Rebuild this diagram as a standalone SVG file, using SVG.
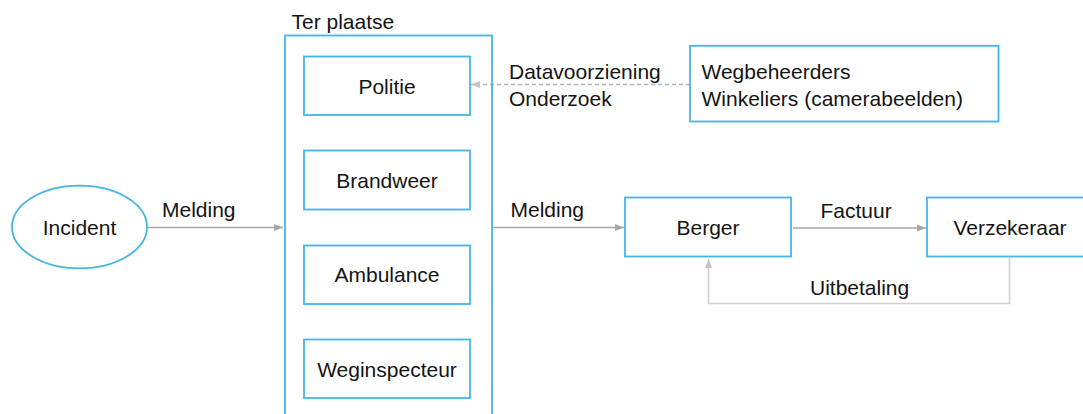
<svg xmlns="http://www.w3.org/2000/svg" width="1083" height="414" viewBox="0 0 1083 414">
  <style>
    .box { fill: #ffffff; stroke: #45b5e8; stroke-width: 1.8; }
    .outer { fill: none; stroke: #45b5e8; stroke-width: 1.8; }
    .t { font-family: "Liberation Sans", Arial, sans-serif; font-size: 21px; fill: #141414; }
    .c { text-anchor: middle; }
    .line { fill: none; stroke: #a6a6a6; stroke-width: 1.6; }
    .light { fill: none; stroke: #d0d0d0; stroke-width: 1.6; }
    .dash { fill: none; stroke: #b4b4b4; stroke-width: 1.6; stroke-dasharray: 4 3; }
  </style>
  <defs>
    <marker id="ah" markerUnits="userSpaceOnUse" markerWidth="10" markerHeight="10" viewBox="0 0 10 10" refX="9" refY="5" orient="auto">
      <path d="M0,1.5 L9,5 L0,8.5 Z" fill="#a6a6a6"/>
    </marker>
    <marker id="ahl" markerUnits="userSpaceOnUse" markerWidth="10" markerHeight="10" viewBox="0 0 10 10" refX="9" refY="5" orient="auto">
      <path d="M0,1.5 L9,5 L0,8.5 Z" fill="#c4c4c4"/>
    </marker>
  </defs>

  <g id="connectors">
    <line class="line" x1="148" y1="227.5" x2="283" y2="227.5" marker-end="url(#ah)"/>
    <line class="line" x1="492" y1="227.5" x2="624" y2="227.5" marker-end="url(#ah)"/>
    <line class="line" x1="793" y1="228" x2="926" y2="228" marker-end="url(#ah)"/>
    <polyline class="light" points="1009.5,257.5 1009.5,303.5 708.5,303.5 708.5,259" marker-end="url(#ahl)"/>
    <line class="dash" x1="690" y1="84.5" x2="471" y2="84.5" marker-end="url(#ahl)"/>
    <text class="t" x="162" y="216.5">Melding</text>
    <text class="t" x="510.5" y="217">Melding</text>
    <text class="t" x="820.5" y="217.5">Factuur</text>
    <text class="t" x="810" y="295">Uitbetaling</text>
    <text class="t" x="509" y="79">Datavoorziening</text>
    <text class="t" x="509" y="106">Onderzoek</text>
  </g>

  <g id="incident">
    <ellipse class="box" cx="79.5" cy="227" rx="67.5" ry="41.3"/>
    <text class="t c" x="79.5" y="234.5">Incident</text>
  </g>

  <g id="ter-plaatse">
    <rect class="outer" x="285" y="35.5" width="207" height="390"/>
    <text class="t" x="291.5" y="28.5">Ter plaatse</text>
  </g>

  <g id="politie">
    <rect class="box" x="304" y="56.5" width="166" height="58.5"/>
    <text class="t c" x="387" y="93.5">Politie</text>
  </g>

  <g id="brandweer">
    <rect class="box" x="304" y="150.5" width="166" height="59"/>
    <text class="t c" x="387" y="187.5">Brandweer</text>
  </g>

  <g id="ambulance">
    <rect class="box" x="304" y="245.5" width="166" height="58.5"/>
    <text class="t c" x="387" y="282">Ambulance</text>
  </g>

  <g id="weginspecteur">
    <rect class="box" x="304" y="339.5" width="166" height="58.5"/>
    <text class="t c" x="387" y="376.5">Weginspecteur</text>
  </g>

  <g id="wegbeheerders">
    <rect class="box" x="690" y="45.8" width="308.5" height="75.7"/>
    <text class="t" x="701.5" y="79">Wegbeheerders</text>
    <text class="t" x="701.5" y="106">Winkeliers (camerabeelden)</text>
  </g>

  <g id="berger">
    <rect class="box" x="625" y="197.5" width="166" height="59"/>
    <text class="t c" x="708" y="235">Berger</text>
  </g>

  <g id="verzekeraar">
    <rect class="box" x="927" y="197.5" width="166" height="59"/>
    <text class="t c" x="1010" y="235">Verzekeraar</text>
  </g>
</svg>
